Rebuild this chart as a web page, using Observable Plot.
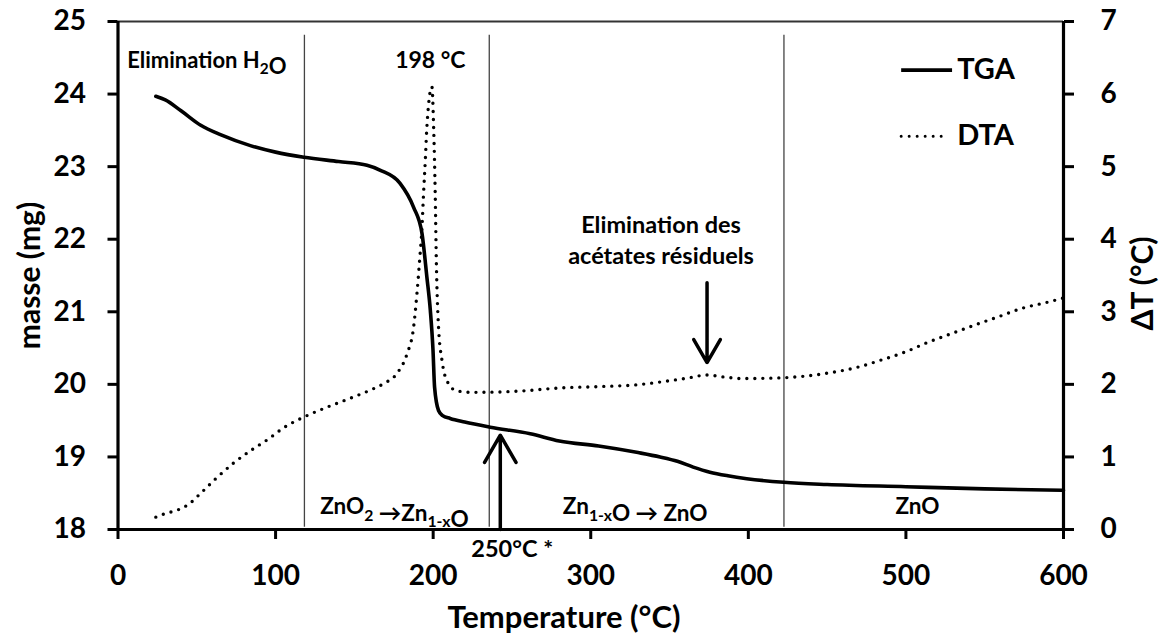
<!DOCTYPE html>
<html><head><meta charset="utf-8">
<script src="https://cdn.jsdelivr.net/npm/d3@7"></script>
<script src="https://cdn.jsdelivr.net/npm/@observablehq/plot@0.6"></script>
<style>body{margin:0;background:#fff;} #chart{width:1165px;height:635px;}</style>
</head><body><div id="chart"></div>
<script>
// TGA: temperature (°C) and mass (mg)
const tgaT    = [24, 30, 40, 52.5, 65, 84, 100, 118, 140, 158, 166.5, 179, 187.6, 192.9, 196, 198.2, 199.9, 200.9, 203.4, 206, 210.8, 220, 236.2, 261.6, 280, 305, 330, 344, 355, 365, 375.6, 387, 399, 422.6, 450, 500, 550, 600];
const tgaMass = [23.97, 23.92, 23.77, 23.57, 23.44, 23.29, 23.2, 23.13, 23.07, 23.02, 22.95, 22.77, 22.44, 22.08, 21.48, 21.02, 20.47, 19.96, 19.64, 19.57, 19.53, 19.48, 19.41, 19.32, 19.22, 19.15, 19.06, 19.0, 18.94, 18.86, 18.79, 18.74, 18.7, 18.65, 18.62, 18.59, 18.56, 18.54];
// DTA: temperature (°C) and ΔT (°C)
const dtaT  = [24, 30, 38, 45, 52.5, 62, 73.6, 85, 95, 105, 118, 132, 147.5, 160, 168.5, 177, 183.4, 187.6, 189.7, 191.4, 192.9, 193.9, 195, 196, 199.2, 200.3, 201.3, 202, 203.4, 205.6, 208.7, 215, 225.6, 257, 280, 306, 327, 350, 365, 373, 385, 396, 421, 449, 470, 485, 500, 514, 529, 544, 558.5, 574, 589.5, 600];
const dtaDT = [0.17, 0.22, 0.27, 0.35, 0.5, 0.7, 0.92, 1.1, 1.24, 1.4, 1.55, 1.68, 1.81, 1.92, 2.01, 2.15, 2.42, 2.79, 3.25, 3.71, 4.16, 4.63, 5.08, 5.54, 6.1, 5.54, 4.63, 3.71, 2.79, 2.33, 2.05, 1.91, 1.89, 1.91, 1.95, 1.97, 1.99, 2.05, 2.1, 2.13, 2.1, 2.08, 2.09, 2.15, 2.24, 2.34, 2.45, 2.58, 2.7, 2.82, 2.93, 3.05, 3.13, 3.19];

const xTicks = [0, 100, 200, 300, 400, 500, 600];
const massTicks = [18, 19, 20, 21, 22, 23, 24, 25];
const dTTicks = [0, 1, 2, 3, 4, 5, 6, 7];
const dTOffset = massTicks[0] - dTTicks[0]; // right axis shares the 7-unit span

// Phase boundaries (°C)
const boundaryT = [118.3, 235.6, 422.6];
const boundaryFrom = 18.03, boundaryTo = 24.81;

// Annotation labels ({...} = subscript)
const labelText   = ["Elimination H{2}O", "198 °C", "Elimination des", "acétates résiduels", "ZnO{2} \u2192Zn{1-x}O", "Zn{1-x}O \u2192 ZnO", "ZnO", "250°C *"];
const labelT      = [5.8, 198.2, 344.6, 344.6, 175.4, 328.2, 507.3, 250.2];
const labelMass   = [24.46, 24.46, 22.19, 21.76, 18.31, 18.31, 18.31, 17.72];
const labelAnchor = ["start", "middle", "middle", "middle", "middle", "middle", "middle", "middle"];
const labelSize   = [22, 23, 23.5, 23.5, 22.5, 22.5, 22.5, 23.5];

// Arrows
const arrowT    = [242.6, 373.8];
const arrowFrom = [18.0, 21.40];
const arrowTo   = [19.30, 20.30];

// Legend
const legendNames = ["TGA", "DTA"];
const legendMass  = [24.33, 23.42];
const legendT1 = 497.3, legendT2 = 529.6, legendTextT = 532.5;

const tga = tgaT.map((t, i) => ({T: t, y: tgaMass[i]}));
const dta = dtaT.map((t, i) => ({T: t, y: dtaDT[i] + dTOffset}));
const labels = labelText.map((s, i) => ({s, T: labelT[i], y: labelMass[i], a: labelAnchor[i], f: labelSize[i]}));
const arrows = arrowT.map((t, i) => ({T: t, y1: arrowFrom[i], y2: arrowTo[i]}));
const legend = legendNames.map((n, i) => ({n, y: legendMass[i]}));

const font = "Lato, 'Open Sans', 'DejaVu Sans', sans-serif";

const svg = Plot.plot({
  width: 1165, height: 635,
  marginLeft: 117.5, marginRight: 102, marginTop: 21, marginBottom: 106,
  style: {fontFamily: font, fontWeight: "bold", fontSize: "28px", background: "#fff", color: "#000", overflow: "visible"},
  x: {domain: [0, 600]},
  y: {domain: [18, 25]},
  marks: [
    Plot.ruleX(boundaryT, {y1: boundaryFrom, y2: boundaryTo, stroke: "#444", strokeWidth: 1.3}),
    Plot.ruleY([massTicks[massTicks.length - 1]], {stroke: "#333", strokeWidth: 2}),
    Plot.line(dta, {x: "T", y: "y", stroke: "#000", strokeWidth: 3.4, strokeDasharray: "0 8", strokeLinecap: "round", curve: "monotone-x"}),
    Plot.line(tga, {x: "T", y: "y", stroke: "#000", strokeWidth: 3.6, curve: "monotone-x"}),
    Plot.arrow(arrows, {x1: "T", x2: "T", y1: "y1", y2: "y2", stroke: "#000", strokeWidth: 3.5, headLength: 16, bend: 0, insetStart: 0, insetEnd: 0}),
    Plot.ruleX([0, 600], {stroke: "#000", strokeWidth: 3.2}),
    Plot.ruleY([18], {stroke: "#000", strokeWidth: 3.2}),
    Plot.axisX({ticks: xTicks, tickSize: 10, tickPadding: 26, strokeWidth: 3, fontSize: 28, label: null, tickFormat: d => String(d)}),
    Plot.axisY({anchor: "left", ticks: massTicks, tickSize: 10, tickPadding: 22, strokeWidth: 3, fontSize: 28, label: null, tickFormat: d => String(d)}),
    Plot.axisY({anchor: "right", ticks: massTicks, tickSize: 10, tickPadding: 27, strokeWidth: 3, fontSize: 28, label: null, tickFormat: d => String(d - dTOffset)}),
    Plot.text(labels.filter(d => d.a === "start"), {x: "T", y: "y", text: "s", textAnchor: "start", fontSize: d => d.f, lineAnchor: "middle", fill: "#000"}),
    Plot.text(labels.filter(d => d.a === "middle"), {x: "T", y: "y", text: "s", textAnchor: "middle", fontSize: d => d.f, lineAnchor: "middle", fill: "#000"}),
    // legend
    Plot.ruleY(legend.filter(d => d.n === "TGA"), {y: "y", x1: legendT1, x2: legendT2, stroke: "#000", strokeWidth: 3.6}),
    Plot.ruleY(legend.filter(d => d.n === "DTA"), {y: "y", x1: legendT1, x2: legendT2 - 3, stroke: "#000", strokeWidth: 3, strokeDasharray: "0 8", strokeLinecap: "round"}),
    Plot.text(legend, {x: legendTextT, y: "y", text: "n", textAnchor: "start", fontSize: 29, lineAnchor: "middle"}),
    // axis titles
    Plot.text(["Temperature (°C)"], {x: 283, frameAnchor: "bottom", dy: 89, fontSize: 31, textAnchor: "middle", lineAnchor: "middle"}),
    Plot.text(["masse (mg)"], {frameAnchor: "left", dx: -88, rotate: -90, fontSize: 30, textAnchor: "middle", lineAnchor: "middle"}),
    Plot.text(["\u0394T (°C)"], {frameAnchor: "right", dx: 80, dy: 8, rotate: -90, fontSize: 30, textAnchor: "middle", lineAnchor: "middle"})
  ]
});

// subscripts
d3.select(svg).selectAll("text").each(function() {
  const t = this.textContent;
  if (!t.includes("{")) return;
  const fs = parseFloat(this.getAttribute("font-size")) || 22;
  const sel = d3.select(this);
  sel.text(null);
  t.split(/(\{[^}]*\})/).forEach(p => {
    if (!p) return;
    if (p.startsWith("{")) {
      sel.append("tspan").attr("dy", (0.28 * fs) + "px").attr("font-size", (0.7 * fs) + "px").text(p.slice(1, -1));
      sel.append("tspan").attr("dy", (-0.28 * fs) + "px").text("");
    } else {
      sel.append("tspan").text(p);
    }
  });
});

document.getElementById("chart").appendChild(svg);
</script>
</body></html>
